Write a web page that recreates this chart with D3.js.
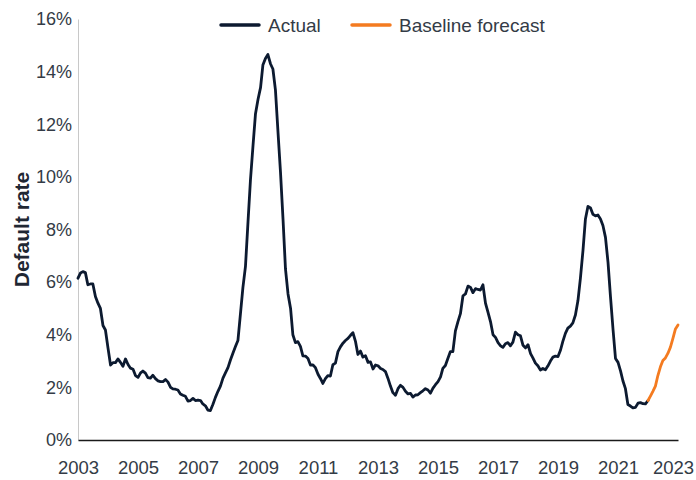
<html>
<head>
<style>
  body { margin: 0; background: #fff; }
  text { font-family: "Liberation Sans", Arial, sans-serif; }
  .line { fill: none; stroke-width: 2.8; stroke-linejoin: round; stroke-linecap: round; }
</style>
</head>
<body>
<svg id="container" width="696" height="480"></svg>

<script src="https://cdn.jsdelivr.net/npm/d3@7"></script>
<script>
// monthly default rate (%), Jan 2003 onwards
let actual = [
  6.15, 6.35, 6.4, 6.36, 5.9, 5.93, 5.93, 5.45, 5.2, 5.0, 4.35, 4.18,
  3.5, 2.85, 2.94, 2.94, 3.08, 2.95, 2.8, 3.08, 2.87, 2.73, 2.69, 2.45,
  2.38, 2.55, 2.62, 2.54, 2.37, 2.35, 2.46, 2.33, 2.25, 2.22, 2.22, 2.3,
  2.2, 2.0, 1.94, 1.93, 1.9, 1.75, 1.7, 1.66, 1.48, 1.5, 1.58, 1.5,
  1.52, 1.5, 1.37, 1.3, 1.14, 1.12, 1.35, 1.62, 1.85, 2.05, 2.35, 2.55,
  2.75, 3.05, 3.3, 3.55, 3.78, 4.8, 5.8, 6.6, 8.3, 9.9, 11.2, 12.4,
  12.95, 13.4, 14.25, 14.5, 14.65, 14.3, 14.1, 13.3, 11.7, 10.2, 8.4, 6.5,
  5.55, 5.0, 4.0, 3.7, 3.74, 3.56, 3.2, 3.19, 3.1, 2.85, 2.85, 2.75,
  2.5, 2.33, 2.15, 2.33, 2.45, 2.43, 2.86, 2.92, 3.36, 3.54, 3.68, 3.78,
  3.86, 3.98, 4.08, 3.75, 3.25, 3.38, 3.15, 3.2, 2.95, 2.97, 2.7, 2.85,
  2.82, 2.72, 2.68, 2.6, 2.35, 2.05, 1.8, 1.7, 1.95, 2.08, 2.0, 1.85,
  1.75, 1.77, 1.63, 1.71, 1.72, 1.8, 1.87, 1.95, 1.9, 1.78, 1.97, 2.1,
  2.22, 2.4, 2.72, 2.83, 3.1, 3.36, 3.36, 4.15, 4.5, 4.8, 5.48, 5.55,
  5.85, 5.8, 5.6, 5.75, 5.72, 5.7, 5.9, 5.2, 4.85, 4.5, 4.0, 3.9,
  3.7, 3.58, 3.52, 3.66, 3.7, 3.58, 3.72, 4.1, 4.0, 3.96, 3.6, 3.5,
  3.62, 3.28, 3.12, 2.92, 2.82, 2.66, 2.72, 2.67, 2.82, 3.0, 3.15, 3.19,
  3.17, 3.42, 3.75, 4.05, 4.25, 4.33, 4.45, 4.75, 5.3, 6.15, 7.2, 8.4,
  8.88, 8.82, 8.58, 8.52, 8.55, 8.4, 8.15, 7.7, 6.75, 5.45, 4.2, 3.1,
  2.95, 2.62, 2.25, 1.95, 1.35, 1.29, 1.22, 1.24, 1.4, 1.42, 1.38, 1.37,
  1.5
]
// baseline forecast, Jan 2022 to Jan 2023
let forecast = [1.5, 1.68, 1.85, 2.05, 2.45, 2.78, 3.02, 3.12, 3.3, 3.53, 3.87, 4.22, 4.37]
let yTicks = [0, 2, 4, 6, 8, 10, 12, 14, 16]
let xTickYears = [2003, 2005, 2007, 2009, 2011, 2013, 2015, 2017, 2019, 2021, 2023]
let seriesNames = ["Actual", "Baseline forecast"]
let seriesColors = ["#0c1a30", "#f47b20"]

let svg = d3.select("#container")
let plotLeft = 78, plotRight = 678, plotTop = 19, plotBottom = 440

let toData = (vals, start) => vals.map((v, i) => ({
    date: new Date(start[0], start[1] + i, 1),
    value: v
}))
let actualData = toData(actual, [2003, 0])
let forecastData = toData(forecast, [2022, 0])

let xScale = d3.scaleTime()
    .domain([new Date(2003, 0, 1), new Date(2023, 0, 1)])
    .range([plotLeft, plotRight])
let yScale = d3.scaleLinear()
    .domain([0, 16])
    .range([plotBottom, plotTop])

// y axis: light line, labels only
let yAxis = svg.append("g")
    .attr("transform", "translate(" + plotLeft + ",0)")
    .call(d3.axisLeft(yScale).tickValues(yTicks).tickSize(0).tickPadding(6).tickFormat(d => d + "%"))
yAxis.select(".domain").attr("stroke", "#c8c8c8").attr("stroke-width", 1)
yAxis.selectAll("text")
    .attr("font-size", 18)
    .attr("fill", "#333b46")
    .attr("font-family", "Liberation Sans, Arial, sans-serif")

// x axis
let xAxis = svg.append("g")
    .attr("transform", "translate(0," + plotBottom + ")")
    .call(d3.axisBottom(xScale)
        .tickValues(xTickYears.map(y => new Date(y, 0, 1)))
        .tickSize(0).tickPadding(21)
        .tickFormat(d3.timeFormat("%Y")))
xAxis.select(".domain").attr("stroke", "#1a1a1a").attr("stroke-width", 1.5)
xAxis.selectAll("text")
    .attr("font-size", 18.5)
    .attr("fill", "#333b46")
    .attr("font-family", "Liberation Sans, Arial, sans-serif")
    .attr("x", (d, i) => i === xTickYears.length - 1 ? -5 : 0) // keep last label inside

// y title
svg.append("text")
    .attr("transform", "translate(29," + ((plotTop + plotBottom) / 2) + ") rotate(-90)")
    .attr("text-anchor", "middle")
    .attr("font-size", 21)
    .attr("font-weight", "bold")
    .attr("fill", "#1f2733")
    .text("Default rate")

let valueLine = d3.line()
    .x(d => xScale(d.date))
    .y(d => yScale(d.value))

svg.append("path")
    .datum(actualData)
    .attr("class", "line")
    .attr("stroke", seriesColors[0])
    .attr("d", valueLine)

svg.append("path")
    .datum(forecastData)
    .attr("class", "line")
    .attr("stroke", seriesColors[1])
    .attr("d", valueLine)

// legend
let legendX = [221, 352]
seriesNames.forEach((name, i) => {
    let g = svg.append("g").attr("transform", "translate(" + legendX[i] + ",25)")
    g.append("line")
        .attr("x1", 0).attr("x2", 38)
        .attr("stroke", seriesColors[i])
        .attr("stroke-width", 3.5)
        .attr("stroke-linecap", "round")
    g.append("text")
        .attr("x", 47)
        .attr("dy", "0.35em")
        .attr("font-size", 19)
        .attr("fill", "#333b46")
        .text(name)
})
</script>
</body>
</html>
